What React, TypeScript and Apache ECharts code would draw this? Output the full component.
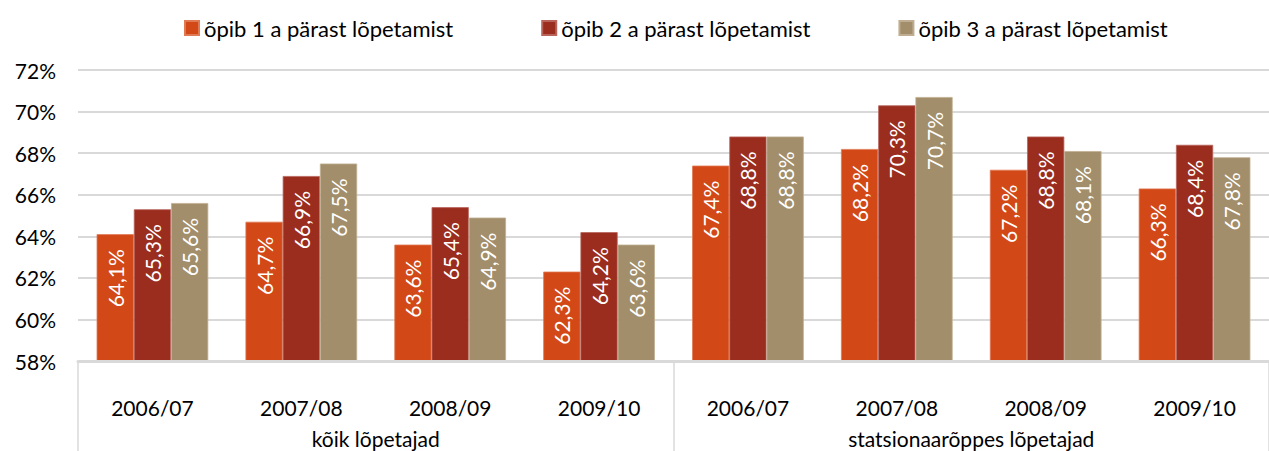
import React, { useEffect, useRef } from "react";
import * as echarts from "echarts";

const categories = ["2006/07", "2007/08", "2008/09", "2009/10", "2006/07", "2007/08", "2008/09", "2009/10"];
const groups = ["kõik lõpetajad", "statsionaarõppes lõpetajad"];
const seriesNames = ["õpib 1 a pärast lõpetamist", "õpib 2 a pärast lõpetamist", "õpib 3 a pärast lõpetamist"];
const year1 = [64.1, 64.7, 63.6, 62.3, 67.4, 68.2, 67.2, 66.3];
const year2 = [65.3, 66.9, 65.4, 64.2, 68.8, 70.3, 68.8, 68.4];
const year3 = [65.6, 67.5, 64.9, 63.6, 68.8, 70.7, 68.1, 67.8];
const colors = ["#D34817", "#9B2D1F", "#A28E6A"];
const borders = ["#E07A55", "#B8645A", "#BFAE92"];

const FONT = "Lato";

export default function App() {
  const ref = useRef<HTMLDivElement>(null);
  useEffect(() => {
    if (!ref.current) return;
    const chart = echarts.init(ref.current, null, { renderer: "svg" });
    const data = [year1, year2, year3];
    chart.setOption({
      animation: false,
      textStyle: { fontFamily: FONT },
      legend: {
        top: 12,
        left: 179,
        icon: "rect",
        itemWidth: 14,
        itemHeight: 14,
        itemGap: 88,
        textStyle: { fontFamily: FONT, fontSize: 22, color: "#000" },
        data: seriesNames,
      },
      grid: { left: 78, top: 70, width: 1202, height: 291, containLabel: false },
      xAxis: [
        {
          type: "category",
          data: categories,
          axisLine: { show: true, lineStyle: { color: "#D9D9D9", width: 3 } },
          axisTick: { show: false },
          axisLabel: { color: "#000", fontSize: 21, fontFamily: FONT, margin: 36 },
          z: 3,
        },
        {
          type: "category",
          data: groups,
          position: "bottom",
          axisLine: { show: false },
          axisTick: { show: true, length: 92, lineStyle: { color: "#D9D9D9", width: 1.5 } },
          axisLabel: { color: "#000", fontSize: 21, fontFamily: FONT, margin: 67 },
          splitLine: { show: false },
        },
      ],
      yAxis: {
        type: "value",
        min: 58,
        max: 72,
        interval: 2,
        axisLine: { show: false },
        axisTick: { show: false },
        axisLabel: {
          color: "#000",
          fontSize: 21,
          fontFamily: FONT,
          margin: 22,
          formatter: (v: number) => `${v}%`,
        },
        splitLine: { lineStyle: { color: "#D9D9D9", width: 2 } },
      },
      series: data.map((d, i) => ({
        name: seriesNames[i],
        type: "bar",
        xAxisIndex: 0,
        data: d,
        barGap: "0%",
        barCategoryGap: "25%",
        itemStyle: { color: colors[i], borderColor: borders[i], borderWidth: 0.8 },
        label: {
          show: true,
          position: "insideTop",
          rotate: 90,
          align: "right",
          verticalAlign: "middle",
          distance: 15,
          color: "#FFFFFF",
          fontSize: 21,
          fontFamily: FONT,
          formatter: (p: any) => `${p.value.toFixed(1).replace(".", ",")}%`,
        },
      })),
    });
    return () => chart.dispose();
  }, []);
  return (
    <div
      ref={ref}
      style={{ position: "absolute", left: 0, top: 0, width: 1269, height: 451, background: "#fff" }}
    />
  );
}
